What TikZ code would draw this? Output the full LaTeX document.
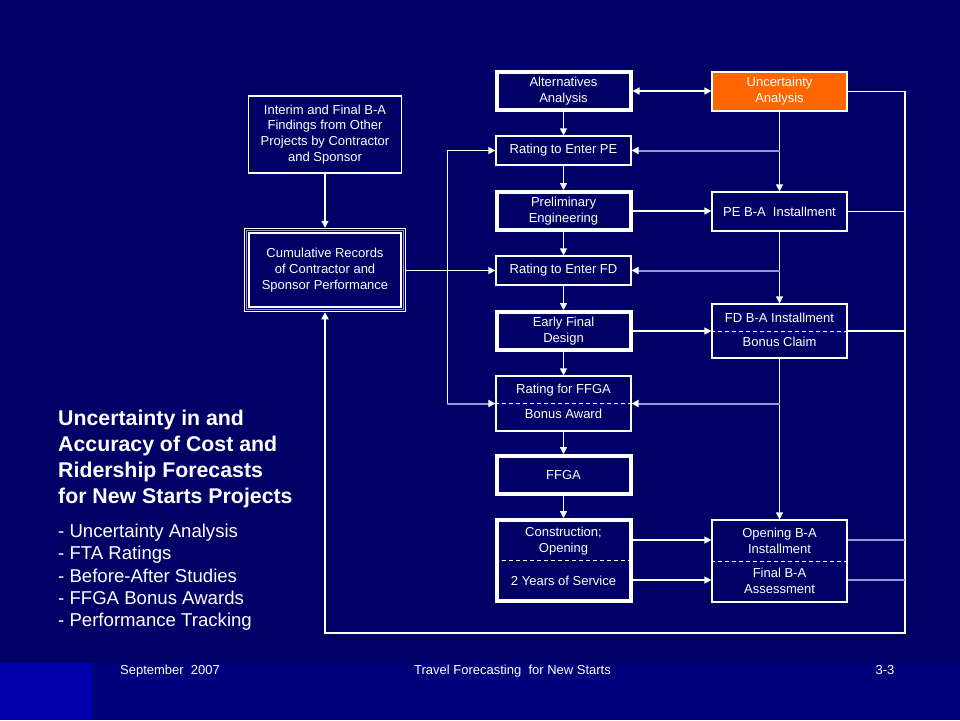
\documentclass[tikz,border=0pt]{standalone}
\usepackage{fontspec}
\setmainfont{Liberation Sans}
\usetikzlibrary{arrows.meta,calc}
\definecolor{bg}{RGB}{0,0,102}
\definecolor{footbg}{RGB}{0,0,122}
\definecolor{leftbg}{RGB}{0,0,170}
\definecolor{lav}{RGB}{150,150,210}
\definecolor{orng}{RGB}{255,102,0}
\begin{document}
\begin{tikzpicture}[x=1pt,y=-1pt,
  txt/.style={text=white,font=\fontsize{13}{15.8}\selectfont,align=center,inner sep=0pt},
  thickbox/.style={draw=white,line width=4pt,minimum width=134pt,minimum height=38pt,inner sep=0pt,outer sep=2pt,txt},
  thinbox/.style={draw=white,line width=1.2pt,minimum width=135pt,inner sep=0pt,txt},
  conn/.style={draw=white,line width=1.3pt},
  lavline/.style={draw=lav,line width=2.4pt},
  arr/.style={conn,-{Triangle[length=7pt,width=7pt,color=white]}},
  lavarr/.style={draw=lav,line width=2pt,-{Triangle[length=7pt,width=7pt,color=white]}},
  divider/.style={draw=white,line width=1pt,dash pattern=on 4pt off 3pt},
  head/.style={text=white,font=\fontsize{21.3}{26}\selectfont\bfseries,anchor=base west,inner sep=0pt},
  item/.style={text=white,font=\fontsize{18.6}{22}\selectfont,anchor=base west,inner sep=0pt},
  foot/.style={text=white,font=\fontsize{13}{15}\selectfont,anchor=base,inner sep=0pt},
]
\useasboundingbox (0,0) rectangle (960,720);
\fill[bg] (0,0) rectangle (960,720);
\fill[footbg] (0,663) rectangle (960,720);
\fill[leftbg] (0,663) rectangle (92,720);

% column 1
\node[thickbox] (AA) at (563.5,91) {Alternatives\\Analysis};
\node[thinbox,minimum height=29pt] (RPE) at (563.5,150.5) {Rating to Enter PE};
\node[thickbox] (PE) at (563.5,211) {Preliminary\\Engineering};
\node[thinbox,minimum height=29pt] (RFD) at (563.5,270.5) {Rating to Enter FD};
\node[thickbox] (EFD) at (563.5,331) {Early Final\\Design};
\node[thinbox,minimum height=55pt] (RFF) at (563.5,403.5) {};
\node[txt] (RFFa) at (563.5,390) {Rating for FFGA};
\node[txt] (RFFb) at (563.5,414) {Bonus Award};
\node[thickbox] (FFGA) at (563.5,475) {FFGA};
\node[thickbox,minimum height=81pt] (CON) at (563.5,560.5) {};
\node[txt] (CONa) at (563.5,541) {Construction;\\Opening};
\node[txt] (CONb) at (563.5,581) {2 Years of Service};

% column 2
\node[thinbox,fill=orng,minimum height=39pt] (UA) at (779.5,91.5) {Uncertainty\\Analysis};
\node[thinbox,minimum height=39pt] (PEBA) at (779.5,211.5) {PE B-A\ \ Installment};
\node[thinbox,minimum height=54pt] (FDBA) at (779.5,331) {};
\node[txt] (FDBAa) at (779.5,318) {FD B-A Installment};
\node[txt] (FDBAb) at (779.5,342) {Bonus Claim};
\node[thinbox,minimum height=82pt] (OPEN) at (779.5,561) {};
\node[txt] (OPENa) at (779.5,541) {Opening B-A\\Installment};
\node[txt] (OPENb) at (779.5,581) {Final B-A\\Assessment};

% left boxes
\node[thinbox,minimum width=153pt,minimum height=77pt] (INT) at (325,134.5) {Interim and Final B-A\\Findings from Other\\Projects by Contractor\\and Sponsor};
\node[draw=white,line width=1.5pt,minimum width=161pt,minimum height=83pt,txt] (CUM) at (325,270) {Cumulative Records\\of Contractor and\\Sponsor Performance};
\draw[lav,line width=1.5pt] ([shift={(2.8,2.8)}]CUM.north west) rectangle ([shift={(-2.8,-2.8)}]CUM.south east);
\draw[white,line width=1.5pt] ([shift={(5.2,5.2)}]CUM.north west) rectangle ([shift={(-5.2,-5.2)}]CUM.south east);

% dividers
\draw[divider] (RFF.west) -- (RFF.east);
\draw[divider] (FDBA.west) -- (FDBA.east);
\draw[divider] (CON.west) -- (CON.east);
\draw[divider] (OPEN.west) -- (OPEN.east);

% column 1 flow
\draw[arr] (AA.south) -- (RPE.north);
\draw[arr] (RPE.south) -- (PE.north);
\draw[arr] (PE.south) -- (RFD.north);
\draw[arr] (RFD.south) -- (EFD.north);
\draw[arr] (EFD.south) -- (RFF.north);
\draw[arr] (RFF.south) -- (FFGA.north);
\draw[arr] (FFGA.south) -- (CON.north);

% AA <-> UA
\draw[conn,{Triangle[length=7pt,width=7pt]}-{Triangle[length=7pt,width=7pt]}] (AA.east) -- (AA.east -| UA.west);

% column 2 flow
\draw[arr] (UA.south) -- (PEBA.north);
\draw[lavarr] (UA.south |- RPE.east) -- (RPE.east);
\draw[arr] (PE.east) -- (PE.east -| PEBA.west);
\draw[arr] (PEBA.south) -- (FDBA.north);
\draw[lavarr] (PEBA.south |- RFD.east) -- (RFD.east);
\draw[arr] (EFD.east) -- (EFD.east -| FDBA.west);
\draw[arr] (FDBA.south) -- (OPEN.north);
\draw[lavarr] (FDBA.south |- RFF.east) -- (RFF.east);
\coordinate (c1) at ($(CON.east)+(0,-20.5)$);
\coordinate (c2) at ($(CON.east)+(0,19.5)$);
\draw[arr] (c1) -- (c1 -| OPEN.west);
\draw[arr] (c2) -- (c2 -| OPEN.west);

% right loop
\coordinate (R1) at (905,91.5);
\coordinate (R2) at (905,633);
\draw[arr,line width=1.8pt] (UA.east) -- (R1) -- (R2) -| (CUM.south);
\draw[conn] (PEBA.east) -- (PEBA.east -| R1);
\draw[conn] (FDBA.east) -- (FDBA.east -| R1);
\draw[lavline] (c1 -| OPEN.east) -- (c1 -| R1);
\draw[lavline] (c2 -| OPEN.east) -- (c2 -| R1);

% left connections
\draw[arr] (INT.south) -- (CUM.north);
\draw[arr] (CUM.east |- RFD.west) -- (RFD.west);
\coordinate (L2) at ($(RFF.west)+(-48,0)$);
\draw[arr] (L2) |- (RPE.west);
\draw[lavarr] (L2) -- (RFF.west);

% left text
\node[head] (h1) at (58,425) {Uncertainty in and};
\node[head] (h2) at (58,451) {Accuracy of Cost and};
\node[head] (h3) at (58,477.5) {Ridership Forecasts};
\node[head] (h4) at (58,503.5) {for New Starts Projects};
\node[item] (i1) at (58,537) {- Uncertainty Analysis};
\node[item] (i2) at (58,559.5) {- FTA Ratings};
\node[item] (i3) at (58,582) {- Before-After Studies};
\node[item] (i4) at (58,604) {- FFGA Bonus Awards};
\node[item] (i5) at (58,626) {- Performance Tracking};

% footer
\node[foot] (f1) at (170,674.5) {September\ \ 2007};
\node[foot] (f2) at (512.5,674.5) {Travel Forecasting\ \ for New Starts};
\node[foot] (f3) at (885,674.5) {3-3};
\end{tikzpicture}
\end{document}
